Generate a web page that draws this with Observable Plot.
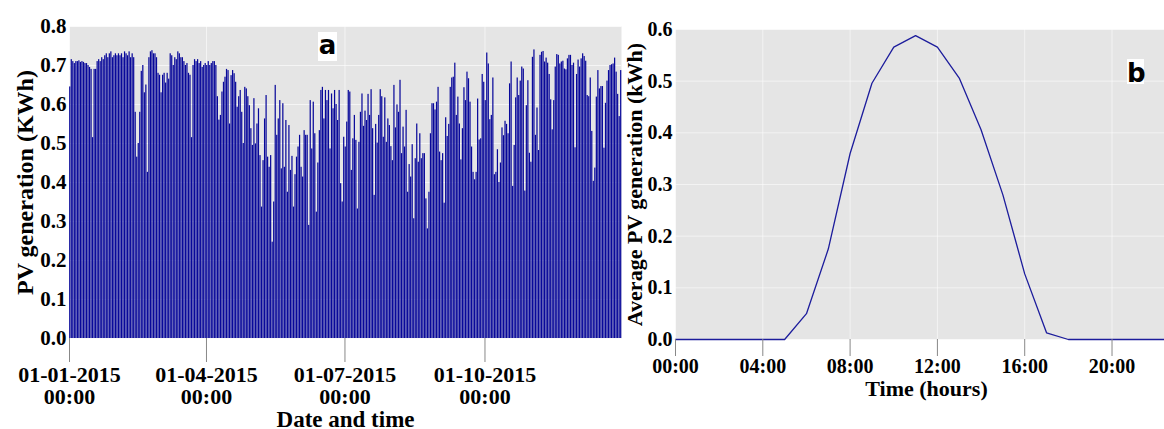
<!DOCTYPE html>
<html><head><meta charset="utf-8">
<script src="https://cdn.jsdelivr.net/npm/d3@7"></script>
<script src="https://cdn.jsdelivr.net/npm/@observablehq/plot@0.6"></script>
<style>
html,body{margin:0;padding:0;background:#fff;overflow:hidden;width:1164px;height:429px;}
#wrap{position:relative;width:1164px;height:429px;overflow:hidden;}
#pa{position:absolute;left:0;top:0;}
#pb{position:absolute;left:622px;top:0;}
.tag{position:absolute;background:#fff;font-family:"DejaVu Sans",sans-serif;font-weight:bold;font-size:26px;text-align:center;color:#000;}
</style></head><body>
<div id="wrap"><div id="pa"></div><div id="pb"></div>
<div class="tag" style="left:318px;top:32px;width:19px;height:29px;line-height:26px;">a</div>
<div class="tag" style="left:1127px;top:59px;width:17px;height:25px;line-height:29px;">b</div>
</div>
<script>
// ---------- Panel a: daily PV generation, 2015 ----------
const startDay = "2015-01-01";
const dailyPV_part1 = [
0.645,0.715,0.71,0.705,0.71,0.71,0.712,0.708,0.71,0.708,
0.705,0.705,0.70,0.695,0.69,0.515,0.69,0.69,0.71,0.715,
0.71,0.72,0.715,0.725,0.73,0.72,0.73,0.735,0.72,0.725,
0.73,0.725,0.73,0.725,0.73,0.72,0.735,0.73,0.725,0.735,
0.72,0.73,0.72,0.58,0.465,0.50,0.58,0.685,0.70,0.63,
0.65,0.426,0.72,0.735,0.738,0.73,0.73,0.72,0.68,0.675,
0.63,0.675,0.68,0.655,0.68,0.665,0.73,0.725,0.70,0.72,
0.715,0.735,0.73,0.72,0.72,0.71,0.70,0.705,0.68,0.675,
0.515,0.70,0.715,0.71,0.715,0.705,0.71,0.695];
const dailyPV_part2 = [
0.70,0.705,0.70,0.71,0.70,0.705,0.71,0.71,0.70,
0.62,0.56,0.572,0.632,0.657,0.67,0.69,0.687,0.55,0.674,
0.687,0.679,0.657,0.593,0.62,0.636,0.58,0.50,0.644,0.640,
0.62,0.597,0.538,0.495,0.615,0.499,0.55,0.589,0.469,0.337,
0.456,0.563,0.623,0.465,0.439,0.469,0.247,0.35,0.649,0.521,
0.563,0.61,0.435,0.602,0.439,0.559,0.375,0.546,0.431,0.467,
0.337,0.42,0.465,0.491,0.521,0.439,0.414,0.533,0.521,0.521,
0.29,0.61,0.486,0.606,0.525,0.324,0.45,0.533,0.636,0.644,
0.563,0.636,0.61,0.636,0.486,0.627,0.589,0.636,0.60,0.559,
0.636,0.397,0.35];
const dailyPV_part3 = [
0.516,0.491,0.555,0.636,0.632,0.431,0.512,0.572,0.508,0.332,
0.503,0.58,0.627,0.544,0.583,0.559,0.626,0.572,0.638,0.538,
0.367,0.549,0.501,0.572,0.638,0.62,0.516,0.617,0.503,0.563,
0.546,0.492,0.456,0.649,0.54,0.599,0.58,0.662,0.474,0.542,
0.491,0.585,0.375,0.446,0.414,0.497,0.307,0.461,0.55,0.452,
0.525,0.461,0.474,0.474,0.358,0.281,0.375,0.525,0.602,0.602,
0.586,0.606,0.644,0.478,0.456,0.474,0.347,0.566,0.518,0.549,
0.644,0.668,0.67,0.706,0.572,0.619,0.55,0.458,0.538,0.643,
0.61,0.683,0.666,0.606,0.491,0.426,0.407,0.426,0.614,0.509,
0.512,0.677];
const dailyPV_part4 = [
0.657,0.61,0.732,0.704,0.561,0.572,0.668,0.42,0.426,0.484,
0.40,0.45,0.54,0.52,0.557,0.549,0.525,0.653,0.709,0.39,
0.495,0.617,0.668,0.623,0.66,0.696,0.691,0.378,0.597,0.661,
0.475,0.452,0.721,0.74,0.521,0.591,0.482,0.726,0.734,0.736,
0.709,0.719,0.706,0.677,0.612,0.535,0.61,0.696,0.728,0.726,
0.704,0.709,0.711,0.691,0.689,0.717,0.726,0.726,0.70,0.706,
0.489,0.677,0.714,0.696,0.717,0.73,0.723,0.711,0.623,0.62,
0.668,0.531,0.403,0.437,0.619,0.687,0.64,0.646,0.646,0.488,
0.603,0.66,0.687,0.70,0.702,0.704,0.719,0.683,0.626,0.569,
0.687];
const xTickDatesA = ["2015-01-01","2015-04-01","2015-07-01","2015-10-01"];
const xTickLabelsA = ["01-01-2015\n00:00","01-04-2015\n00:00","01-07-2015\n00:00","01-10-2015\n00:00"];
const yTicksA = [0,0.1,0.2,0.3,0.4,0.5,0.6,0.7,0.8];
const xLabelA = "Date and time";
const yLabelA = "PV generation (KWh)";

// ---------- Panel b: average hourly PV generation ----------
const hours = [0,1,2,3,4,5,6,7,8,9,10,11,12,13,14,15,16,17,18,19,20,21,22,23];
const avgPV = [0,0,0,0,0,0,0.05,0.175,0.36,0.496,0.566,0.588,0.566,0.506,0.406,0.28,0.127,0.013,0,0,0,0,0,0];
const hourTicks = [0,4,8,12,16,20];
const hourTickLabels = ["00:00","04:00","08:00","12:00","16:00","20:00"];
const yTicksB = [0,0.1,0.2,0.3,0.4,0.5,0.6];
const xLabelB = "Time (hours)";
const yLabelB = "Average PV generation (kWh)";

const serif = "'Liberation Serif','Times New Roman',serif";
const DAY = 864e5;
const t0 = new Date(startDay).getTime();
const dailyPV = [].concat(dailyPV_part1, dailyPV_part2, dailyPV_part3, dailyPV_part4);
const rowsA = dailyPV.map((v, i) => ({start: new Date(t0 + i * DAY), end: new Date(t0 + (i + 1) * DAY), v}));
const tickDatesA = xTickDatesA.map(s => new Date(s));
const fmtA = d => xTickLabelsA[tickDatesA.findIndex(t => +t === +d)];

const chartA = Plot.plot({
  width: 622, height: 429,
  marginLeft: 69, marginRight: 1, marginTop: 26, marginBottom: 91,
  style: {fontFamily: serif, fontWeight: "bold", color: "#000", background: "transparent", maxWidth: "none", overflow: "visible"},
  x: {type: "utc", domain: [new Date(t0), new Date(t0 + 362.7 * DAY)]},
  y: {domain: [0, 0.8]},
  marks: [
    Plot.frame({fill: "#e5e5e5", stroke: "none"}),
    Plot.gridY({ticks: yTicksA, stroke: "#fff", strokeOpacity: 0.6}),
    Plot.gridX({ticks: tickDatesA, stroke: "#fff", strokeOpacity: 0.6}),
    Plot.rect(rowsA, {x1: "start", x2: "end", y1: 0, y2: "v", fill: "#08089a", insetLeft: 0.15, insetRight: 0.15}),
    Plot.axisY({ticks: yTicksA, tickFormat: d3.format(".1f"), tickSize: 0, tickPadding: 3, fontSize: 21, fontWeight: "bold", label: null}),
    Plot.axisX({ticks: tickDatesA, tickFormat: fmtA, tickSize: 24, tickPadding: 3, fontSize: 22, fontWeight: "bold", lineHeight: 1.03, stroke: "#888", fill: "#000", label: null}),
    Plot.text([xLabelA], {text: d => d, frameAnchor: "bottom", lineAnchor: "middle", textAnchor: "middle", dy: 81, fontSize: 23, fontWeight: "bold"}),
    Plot.text([yLabelA], {text: d => d, frameAnchor: "left", lineAnchor: "middle", textAnchor: "middle", rotate: -90, dx: -44, fontSize: 24, fontWeight: "bold"})
  ]
});
document.getElementById("pa").append(chartA);

const rowsB = hours.map((h, i) => ({h, v: avgPV[i]}));
const fmtB = d => hourTickLabels[hourTicks.indexOf(d)];
const chartB = Plot.plot({
  width: 555, height: 429,
  marginLeft: 53, marginRight: 0, marginTop: 29, marginBottom: 90,
  style: {fontFamily: serif, fontWeight: "bold", color: "#000", background: "transparent", maxWidth: "none", overflow: "visible"},
  x: {domain: [0, 23]},
  y: {domain: [0, 0.6]},
  marks: [
    Plot.frame({fill: "#e5e5e5", stroke: "none"}),
    Plot.gridY({ticks: yTicksB, stroke: "#fff", strokeOpacity: 0.55}),
    Plot.gridX({ticks: hourTicks, stroke: "#fff", strokeOpacity: 0.55}),
    Plot.line(rowsB, {x: "h", y: "v", stroke: "#1c1c9c", strokeWidth: 1.3}),
    Plot.axisY({ticks: yTicksB, tickFormat: d3.format(".1f"), tickSize: 0, tickPadding: 3, fontSize: 20, fontWeight: "bold", label: null}),
    Plot.axisX({ticks: hourTicks, tickFormat: fmtB, tickSize: 17, tickPadding: 2, fontSize: 20, fontWeight: "bold", stroke: "#888", fill: "#000", label: null}),
    Plot.text([xLabelB], {text: d => d, frameAnchor: "bottom", lineAnchor: "middle", textAnchor: "middle", dy: 49, fontSize: 22, fontWeight: "bold"}),
    Plot.text([yLabelB], {text: d => d, frameAnchor: "left", lineAnchor: "middle", textAnchor: "middle", rotate: -90, dx: -41, fontSize: 22, fontWeight: "bold"})
  ]
});
document.getElementById("pb").append(chartB);
</script>
</body></html>
